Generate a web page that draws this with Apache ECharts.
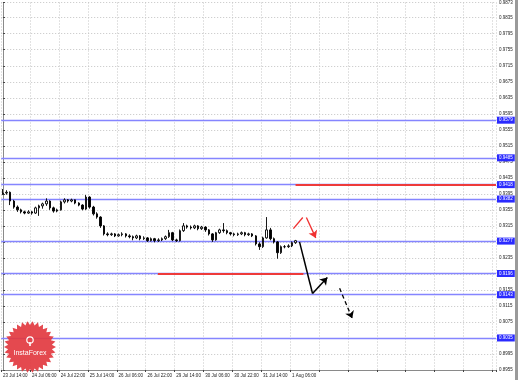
<!DOCTYPE html>
<html>
<head>
<meta charset="utf-8">
<script src="https://cdn.jsdelivr.net/npm/echarts@6/dist/echarts.min.js"></script>
<style>
html,body{margin:0;padding:0;background:#fff;}
#c{width:518px;height:380px;}
</style>
</head>
<body>
<div id="c"></div>
<script>
// ---- data ----
const tickLabels = ['23 Jul 14:00','24 Jul 06:00','24 Jul 22:00','25 Jul 14:00','26 Jul 06:00','26 Jul 22:00','29 Jul 14:00','30 Jul 06:00','30 Jul 22:00','31 Jul 14:00','1 Aug 06:00'];

const openP  = [0.9394,0.9397,0.9399,0.9377,0.9362,0.9355,0.9350,0.9347,0.9350,0.9347,0.9360,0.9365,0.9370,0.9377,0.9360,0.9352,0.9355,0.9375,0.9380,0.9377,0.9380,0.9372,0.9367,0.9357,0.9387,0.9362,0.9345,0.9337,0.9315,0.9295,0.9293,0.9295,0.9290,0.9293,0.9295,0.9290,0.9288,0.9285,0.9290,0.9283,0.9285,0.9278,0.9283,0.9278,0.9280,0.9283,0.9288,0.9298,0.9280,0.9278,0.9303,0.9315,0.9312,0.9310,0.9315,0.9308,0.9312,0.9305,0.9295,0.9280,0.9298,0.9305,0.9303,0.9298,0.9295,0.9293,0.9295,0.9298,0.9293,0.9295,0.9290,0.9270,0.9263,0.9285,0.9305,0.9283,0.9275,0.9248,0.9263,0.9263,0.9265,0.9273];
const closeP = [0.9397,0.9399,0.9377,0.9362,0.9355,0.9350,0.9347,0.9350,0.9347,0.9360,0.9365,0.9370,0.9377,0.9360,0.9352,0.9355,0.9375,0.9380,0.9377,0.9380,0.9372,0.9367,0.9357,0.9387,0.9362,0.9345,0.9337,0.9315,0.9295,0.9293,0.9295,0.9290,0.9293,0.9295,0.9290,0.9288,0.9285,0.9290,0.9283,0.9285,0.9278,0.9283,0.9278,0.9280,0.9283,0.9288,0.9298,0.9280,0.9278,0.9303,0.9315,0.9312,0.9310,0.9315,0.9308,0.9312,0.9305,0.9295,0.9280,0.9298,0.9305,0.9303,0.9298,0.9295,0.9293,0.9295,0.9298,0.9293,0.9295,0.9290,0.9270,0.9263,0.9285,0.9305,0.9283,0.9275,0.9248,0.9263,0.9263,0.9265,0.9273,0.9278];
const lowP   = [0.9392,0.9393,0.9367,0.9358,0.9350,0.9346,0.9344,0.9345,0.9343,0.9345,0.9340,0.9358,0.9365,0.9355,0.9348,0.9349,0.9353,0.9371,0.9373,0.9374,0.9369,0.9364,0.9354,0.9355,0.9358,0.9341,0.9333,0.9310,0.9291,0.9289,0.9290,0.9287,0.9288,0.9289,0.9286,0.9284,0.9279,0.9282,0.9279,0.9280,0.9275,0.9276,0.9274,0.9275,0.9277,0.9280,0.9285,0.9277,0.9275,0.9276,0.9300,0.9308,0.9306,0.9307,0.9304,0.9305,0.9300,0.9291,0.9275,0.9278,0.9295,0.9298,0.9294,0.9291,0.9289,0.9290,0.9292,0.9289,0.9290,0.9287,0.9266,0.9255,0.9260,0.9283,0.9279,0.9271,0.9233,0.9245,0.9259,0.9260,0.9262,0.9270];
const highP  = [0.9407,0.9404,0.9401,0.9380,0.9366,0.9358,0.9353,0.9354,0.9352,0.9363,0.9368,0.9373,0.9384,0.9379,0.9363,0.9358,0.9378,0.9384,0.9382,0.9383,0.9381,0.9374,0.9369,0.9392,0.9389,0.9365,0.9349,0.9339,0.9317,0.9299,0.9298,0.9297,0.9296,0.9299,0.9297,0.9294,0.9291,0.9293,0.9292,0.9289,0.9287,0.9286,0.9285,0.9284,0.9286,0.9291,0.9305,0.9300,0.9283,0.9306,0.9322,0.9318,0.9316,0.9318,0.9317,0.9315,0.9314,0.9307,0.9297,0.9300,0.9308,0.9322,0.9306,0.9300,0.9298,0.9298,0.9301,0.9300,0.9298,0.9297,0.9292,0.9274,0.9288,0.9337,0.9310,0.9286,0.9277,0.9266,0.9267,0.9269,0.9276,0.9280];

const levels = [0.9579, 0.9485, 0.9418, 0.9382, 0.9277, 0.9196, 0.9143, 0.9035];

const redStart = [42.9, 81];
const redEnd   = [83.2, 136.5];
const redPrice = [0.9196, 0.9418];

// forecast arrows: [x0, y0] -> [x1, y1]; the last leg of each carries the head
const redArrowX   = [80.4, 83.0, 84.0, 86.6];
const redArrowY   = [0.9308, 0.9336, 0.9336, 0.9285];
const blackArrowX = [82.1, 85.7, 89.8];
const blackArrowY = [0.9275, 0.9146, 0.9186];
const dashArrowX  = [93.2, 96.7];
const dashArrowY  = [0.9159, 0.9084];

// ---- chart ----
const N = 137;
const cats = Array.from({length: N}, (_, i) => i);
const candles = openP.map((o, i) => [o, closeP[i], lowP[i], highP[i]]);
const seg = (xs, ys, a, b) => [[xs[a], ys[a]], [xs[b], ys[b]]];
const FONT = 'Liberation Sans';

const chart = echarts.init(document.getElementById('c'));

// starburst logo points
const star = [];
const cx = 30, cy = 347, R = 26, r = 22, teeth = 30;
for (let k = 0; k < teeth * 2; k++) {
  const a = Math.PI * k / teeth;
  const rr = k % 2 === 0 ? R : r;
  star.push([cx + rr * Math.cos(a), cy + rr * Math.sin(a)]);
}

const RED = '#f03030';

chart.setOption({
  animation: false,
  backgroundColor: '#ffffff',
  grid: {left: 0, right: 22, top: 0, bottom: 10, containLabel: false},
  xAxis: [{
    type: 'category',
    data: cats,
    boundaryGap: true,
    axisLine: {show: true, lineStyle: {color: '#8a8a8a', width: 1}},
    axisTick: {show: true, interval: 7, length: 2, lineStyle: {color: '#444'}},
    axisLabel: {
      interval: 7, fontSize: 4.5, fontFamily: FONT, color: '#222', align: 'left', margin: 3,
      formatter: (v, idx) => tickLabels[idx / 8] || ''
    },
    splitLine: {show: true, interval: 7, lineStyle: {color: '#c4c4c4', type: [1, 2], width: 1}}
  }, {
    type: 'value', min: -0.5, max: N - 0.5, show: false
  }],
  yAxis: [{
    type: 'value',
    position: 'right',
    min: 0.8955, max: 0.9873, interval: 0.004,
    axisLine: {show: true, lineStyle: {color: '#8a8a8a', width: 1}},
    axisTick: {show: true, length: 2, lineStyle: {color: '#444'}},
    axisLabel: {fontSize: 4.5, fontFamily: FONT, color: '#222', margin: 3, formatter: v => v.toFixed(4)},
    splitLine: {show: true, lineStyle: {color: '#c4c4c4', type: [1, 2], width: 1}}
  }],
  series: [{
    type: 'candlestick',
    xAxisIndex: 0, yAxisIndex: 0,
    data: candles,
    barWidth: 2,
    z: 5,
    itemStyle: {color: '#ffffff', color0: '#000000', borderColor: '#000000', borderColor0: '#000000', borderWidth: 0.9},
    markLine: {
      silent: true,
      precision: 4,
      symbol: ['none', 'none'],
      z: 3,
      lineStyle: {color: '#8585ff', width: 1.3, type: 'solid'},
      label: {
        show: true, position: 'end', distance: 1,
        formatter: p => Number(p.value).toFixed(4),
        backgroundColor: '#2a2aff', color: '#ffffff', fontSize: 4.5, fontFamily: FONT,
        padding: [1, 2, 1, 2]
      },
      data: levels.map(v => ({yAxis: v}))
    }
  }, {
    type: 'lines',
    coordinateSystem: 'cartesian2d',
    xAxisIndex: 1, yAxisIndex: 0,
    z: 6,
    symbol: ['none', 'none'],
    lineStyle: {color: '#ee3a3a', width: 2, opacity: 1},
    data: redStart.map((s, i) => ({coords: [[s, redPrice[i]], [redEnd[i], redPrice[i]]]}))
  }, {
    // legs without heads
    type: 'lines',
    coordinateSystem: 'cartesian2d',
    xAxisIndex: 1, yAxisIndex: 0,
    z: 7,
    symbol: ['none', 'none'],
    data: [
      {coords: seg(redArrowX, redArrowY, 0, 1), lineStyle: {color: RED, width: 1.3, opacity: 1}},
      {coords: seg(blackArrowX, blackArrowY, 0, 1), lineStyle: {color: '#000', width: 1.5, opacity: 1}}
    ]
  }, {
    // legs with arrow heads
    type: 'lines',
    coordinateSystem: 'cartesian2d',
    xAxisIndex: 1, yAxisIndex: 0,
    z: 7,
    symbol: ['none', 'arrow'],
    symbolSize: 7,
    data: [
      {coords: seg(redArrowX, redArrowY, 2, 3), lineStyle: {color: RED, width: 1.3, opacity: 1}},
      {coords: seg(blackArrowX, blackArrowY, 1, 2), lineStyle: {color: '#000', width: 1.5, opacity: 1}},
      {coords: seg(dashArrowX, dashArrowY, 0, 1), lineStyle: {color: '#000', width: 1.3, type: [4, 3], opacity: 1}}
    ]
  }],
  graphic: [
    {type: 'rect', left: 515, top: 0, shape: {width: 3, height: 380}, style: {fill: '#9a9a9a'}, z: 100},
    {type: 'polygon', shape: {points: star}, style: {fill: '#e23a40', opacity: 0.92}, z: 100},
    {type: 'circle', shape: {cx: 30, cy: 340, r: 3.2}, style: {fill: 'none', stroke: '#fff', lineWidth: 1.2}, z: 101},
    {type: 'rect', shape: {x: 29.2, y: 342, width: 1.6, height: 4}, style: {fill: '#fff'}, z: 101},
    {type: 'text', x: 30, y: 353, style: {text: 'InstaForex', fill: '#ffffff', fontSize: 7, fontFamily: FONT, align: 'center', verticalAlign: 'middle'}, z: 101}
  ]
});
</script>
</body>
</html>
